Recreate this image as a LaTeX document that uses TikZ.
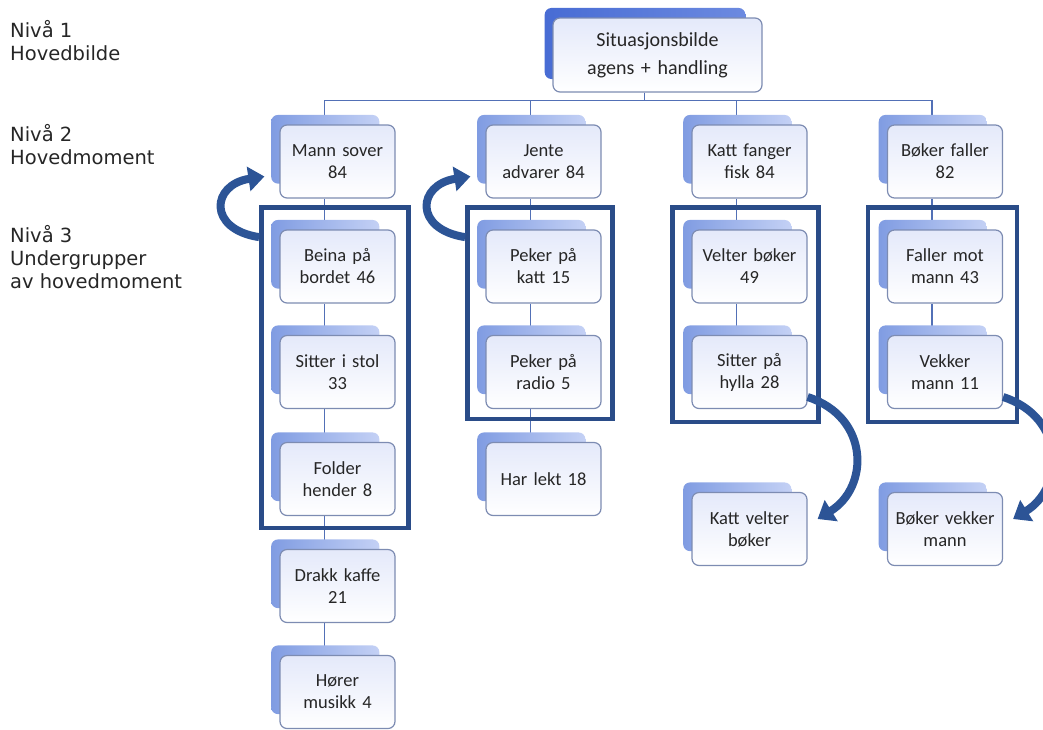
\documentclass[tikz,border=0pt]{standalone}
\usepackage{fontspec}
\setmainfont{Carlito}
\newfontfamily\levelfont{DejaVu Sans}
\usetikzlibrary{arrows.meta,calc,shadows,backgrounds,fit}

\definecolor{boxtop}{RGB}{228,233,250}
\definecolor{boxline}{RGB}{125,140,178}
\definecolor{shadeleft}{RGB}{128,156,226}
\definecolor{shaderight}{RGB}{196,209,245}
\definecolor{mainleft}{RGB}{72,108,212}
\definecolor{mainright}{RGB}{108,138,224}
\definecolor{linkblue}{RGB}{82,112,182}
\definecolor{frameblue}{RGB}{42,76,136}
\definecolor{arrowblue}{RGB}{44,84,150}

\begin{document}
\begin{tikzpicture}[x=1pt,y=-1pt,
  boxbase/.style={draw=boxline, line width=1.2pt, rounded corners=7pt,
    top color=boxtop, bottom color=white, text=black!85, align=center, inner sep=0pt},
  item/.style={boxbase, minimum width=115pt, minimum height=73pt, text width=108pt,
    font=\fontsize{18.5}{22}\selectfont,
    general shadow={left color=shadeleft, right color=shaderight, rounded corners=4pt,
      shadow xshift=-13pt, shadow yshift=13pt, shadow scale=0.94}},
  topbox/.style={boxbase, minimum width=209pt, minimum height=74pt, text width=200pt,
    font=\fontsize{20}{28}\selectfont,
    general shadow={left color=mainleft, right color=mainright, rounded corners=4pt,
      shadow xshift=-13pt, shadow yshift=12pt, shadow scale=0.96}},
  level/.style={font=\levelfont\fontsize{19.5}{23}\selectfont, align=left,
    anchor=north west, inner sep=0pt, text=black!85},
  frame/.style={draw=frameblue, line width=4.5pt, inner sep=0pt},
  link/.style={draw=linkblue, line width=1.2pt},
  turn/.style={draw=arrowblue, line width=8pt, -{Triangle[width=24pt,length=16pt]}}
]
  \useasboundingbox (0,0) rectangle (1043,729);

  % level texts
  \node[level] (lv1) at (10,20) {Nivå 1\\Hovedbilde};
  \node[level] (lv2) at (10,124) {Nivå 2\\Hovedmoment};
  \node[level] (lv3) at (10,225) {Nivå 3\\Undergrupper\\av hovedmoment};

  % boxes
  \node[topbox] (sit) at (657.5,55) {Situasjonsbilde\\agens + handling};

  \node[item] (m1) at (337.5,161.5) {Mann sover\\84};
  \node[item] (s11) at (337.5,266.5) {Beina på\\bordet 46};
  \node[item] (s12) at (337.5,372) {Sitter i stol\\33};
  \node[item] (s13) at (337.5,479) {Folder\\hender 8};
  \node[item] (s14) at (337.5,586) {Drakk kaffe\\21};
  \node[item] (s15) at (337.5,692) {Hører\\musikk 4};

  \node[item] (m2) at (543.5,161.5) {Jente\\advarer 84};
  \node[item] (s21) at (543.5,266.5) {Peker på\\katt 15};
  \node[item] (s22) at (543.5,372) {Peker på\\radio 5};
  \node[item] (s23) at (543.5,479) {Har lekt 18};

  \node[item] (m3) at (749.5,161.5) {Katt fanger\\fisk 84};
  \node[item] (s31) at (749.5,266.5) {Velter bøker\\49};
  \node[item] (s32) at (749.5,372) {Sitter på\\hylla 28};
  \node[item] (k3) at (749.5,529) {Katt velter\\bøker};

  \node[item] (m4) at (945,161.5) {Bøker faller\\82};
  \node[item] (s41) at (945,266.5) {Faller mot\\mann 43};
  \node[item] (s42) at (945,372) {Vekker\\mann 11};
  \node[item] (k4) at (945,529) {Bøker vekker\\mann};

  % tree lines
  \begin{pgfonlayer}{background}
    \foreach \m in {m1,m2,m3,m4}
      \draw[link] ([xshift=-13pt]sit.south) -- ++(0,8) -| ([xshift=-13pt]\m.north);
    \foreach \a/\b in {m1/s11,s11/s12,s12/s13,s13/s14,s14/s15,
                       m2/s21,s21/s22,s22/s23,m3/s31,s31/s32,m4/s41,s41/s42}
      \draw[link] ([xshift=-13pt]\a.south) -- ([xshift=-13pt]\b.north);
  \end{pgfonlayer}

  % frames
  \coordinate (f1a) at ($(s11.north west)+(-18,-22)$);
  \coordinate (f1b) at ($(s13.south east)+(13,12)$);
  \coordinate (f2a) at ($(s21.north west)+(-18,-22)$);
  \coordinate (f2b) at ($(s22.south east)+(11,10)$);
  \coordinate (f3a) at ($(s31.north west)+(-19,-22)$);
  \coordinate (f3b) at ($(s32.south east)+(11,13)$);
  \coordinate (f4a) at ($(s41.north west)+(-19,-22)$);
  \coordinate (f4b) at ($(s42.south east)+(14,13)$);
  \node[frame, fit=(f1a)(f1b)] (f1) {};
  \node[frame, fit=(f2a)(f2b)] (f2) {};
  \node[frame, fit=(f3a)(f3b)] (f3) {};
  \node[frame, fit=(f4a)(f4b)] (f4) {};

  % curved arrows
  \draw[turn] ($(f1.north west)+(0,32)$) .. controls ++(-52,-8) and ++(-53,8) .. ($(m1.west)+(-15,15)$);
  \draw[turn] ($(f2.north west)+(0,32)$) .. controls ++(-52,-8) and ++(-53,8) .. ($(m2.west)+(-15,15)$);
  \draw[turn] ($(s32.east)+(0,25)$) .. controls ++(62,20) and ++(52,-32) .. ($(k3.east)+(10,-10)$);
  \draw[turn] ($(s42.east)+(0,25)$) .. controls ++(62,20) and ++(52,-32) .. ($(k4.east)+(10,-10)$);
\end{tikzpicture}
\end{document}
